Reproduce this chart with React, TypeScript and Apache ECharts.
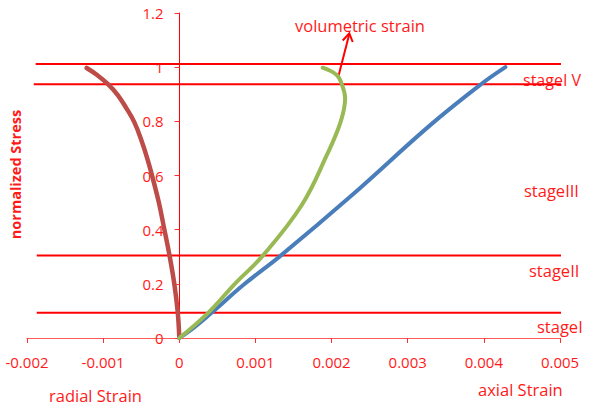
import React, { useEffect, useRef } from "react";
import * as echarts from "echarts";

// Radial strain (brown curve)
const radialX = [0, -0.00002, -0.000066, -0.000131, -0.000197, -0.000269, -0.000342, -0.000414, -0.000499, -0.000591, -0.000696, -0.000808, -0.00094, -0.001084, -0.001216];
const radialY = [0, 0.094, 0.201, 0.309, 0.402, 0.501, 0.583, 0.657, 0.731, 0.797, 0.849, 0.897, 0.938, 0.972, 0.997];

// Axial strain (blue curve)
const axialX = [0, 0.0002, 0.000424, 0.00086, 0.001336, 0.002266, 0.003296, 0.003963, 0.004283];
const axialY = [0, 0.04, 0.093, 0.2, 0.305, 0.527, 0.786, 0.937, 1.0];

// Volumetric strain (green curve)
const volX = [0, 0.000379, 0.00073, 0.0011, 0.001607, 0.001937, 0.00212, 0.002178, 0.002134, 0.002068, 0.001884];
const volY = [0, 0.093, 0.2, 0.305, 0.49, 0.675, 0.799, 0.885, 0.937, 0.971, 0.998];

// Stage boundary lines: level, start and end strain
const stageLevels = [1.012, 0.937, 0.305, 0.093];
const stageStarts = [-0.001886, -0.001912, -0.001872, -0.001872];
const stageEnds = [0.005342, 0.0055, 0.0055, 0.0055];

const stageLabels = ["stageI V", "stageIII", "stageII", "stageI"];

const RED = "#ff1a1a";
const FONT = "'Open Sans', sans-serif";

const zip = (xs: number[], ys: number[]) => xs.map((x, i) => [x, ys[i]]);

export default function App() {
  const ref = useRef<HTMLDivElement>(null);
  useEffect(() => {
    if (!ref.current) return;
    const chart = echarts.init(ref.current, undefined, { renderer: "svg" });
    const stageSeries = stageLevels.map((lv, i) => ({
      type: "line",
      data: [
        [stageStarts[i], lv],
        [stageEnds[i], lv],
      ],
      clip: false,
      showSymbol: false,
      symbol: "none",
      silent: true,
      lineStyle: { color: "#ff0000", width: 2 },
      z: 1,
    }));
    const curve = (name: string, xs: number[], ys: number[], color: string, width: number) => ({
      type: "line",
      name,
      data: zip(xs, ys),
      smooth: 0.4,
      showSymbol: false,
      symbol: "none",
      lineStyle: { color, width, cap: "round", join: "round" },
      z: 3,
    });
    chart.setOption({
      animation: false,
      backgroundColor: "#ffffff",
      grid: { left: 27, right: 36, top: 13, bottom: 70, containLabel: false, outerBoundsMode: "none" },
      xAxis: {
        type: "value",
        min: -0.002,
        max: 0.005,
        interval: 0.001,
        axisLine: { onZero: true, lineStyle: { color: "#ff5a5a", width: 1 } },
        axisTick: { show: true, length: 5, lineStyle: { color: "#ff3030" } },
        splitLine: { show: false },
        axisLabel: {
          color: RED,
          fontFamily: FONT,
          fontSize: 15,
          margin: 16,
          formatter: (v: number) => (Math.abs(v) < 1e-9 ? "0" : v.toFixed(3)),
        },
      },
      yAxis: {
        type: "value",
        min: 0,
        max: 1.2,
        interval: 0.2,
        offset: -152.5,
        axisLine: { show: true, onZero: false, lineStyle: { color: "#ff0000", width: 1 } },
        axisTick: { show: true, length: 5, lineStyle: { color: "#ff3030" } },
        splitLine: { show: false },
        axisLabel: {
          color: RED,
          fontFamily: FONT,
          fontSize: 15,
          margin: 16,
          formatter: (v: number) => String(parseFloat(v.toFixed(1))),
        },
      },
      series: [
        ...stageSeries,
        curve("radial", radialX, radialY, "#bd4b47", 4.5),
        curve("axial", axialX, axialY, "#4a7ebb", 4),
        curve("volumetric", volX, volY, "#98b954", 4),
      ],
      graphic: [
        {
          type: "text",
          x: 295,
          y: 25,
          style: { text: "volumetric strain", fill: RED, font: `16.5px ${FONT}`, textVerticalAlign: "middle" },
        },
        {
          type: "line",
          shape: { x1: 338.3, y1: 76.7, x2: 349.3, y2: 34 },
          style: { stroke: "#ff0000", lineWidth: 2 },
        },
        {
          type: "polyline",
          shape: { points: [[342.7, 40.5], [349.3, 33.3], [352.7, 42]] },
          style: { stroke: "#ff0000", lineWidth: 2, fill: "none" },
        },
        {
          type: "text",
          x: 523,
          y: 80,
          style: { text: stageLabels[0], fill: RED, font: `16px ${FONT}`, textVerticalAlign: "middle" },
        },
        {
          type: "text",
          x: 524,
          y: 190,
          style: { text: stageLabels[1], fill: RED, font: `16.5px ${FONT}`, textVerticalAlign: "middle" },
        },
        {
          type: "text",
          x: 529,
          y: 270,
          style: { text: stageLabels[2], fill: RED, font: `16.5px ${FONT}`, textVerticalAlign: "middle" },
        },
        {
          type: "text",
          x: 537,
          y: 326,
          style: { text: stageLabels[3], fill: RED, font: `16.5px ${FONT}`, textVerticalAlign: "middle" },
        },
        {
          type: "text",
          x: 49,
          y: 395,
          style: { text: "radial Strain", fill: RED, font: `16.5px ${FONT}`, textVerticalAlign: "middle" },
        },
        {
          type: "text",
          x: 478,
          y: 389,
          style: { text: "axial Strain", fill: RED, font: `16.5px ${FONT}`, textVerticalAlign: "middle" },
        },
        {
          type: "text",
          x: 15.5,
          y: 174.5,
          rotation: Math.PI / 2,
          style: {
            text: "normalized Stress",
            fill: RED,
            font: `bold 14.5px ${FONT}`,
            textAlign: "center",
            textVerticalAlign: "middle",
          },
        },
      ],
    });
    return () => chart.dispose();
  }, []);
  return (
    <div
      ref={ref}
      style={{ position: "fixed", left: 0, top: 0, width: 596, height: 408, background: "#fff" }}
    />
  );
}
